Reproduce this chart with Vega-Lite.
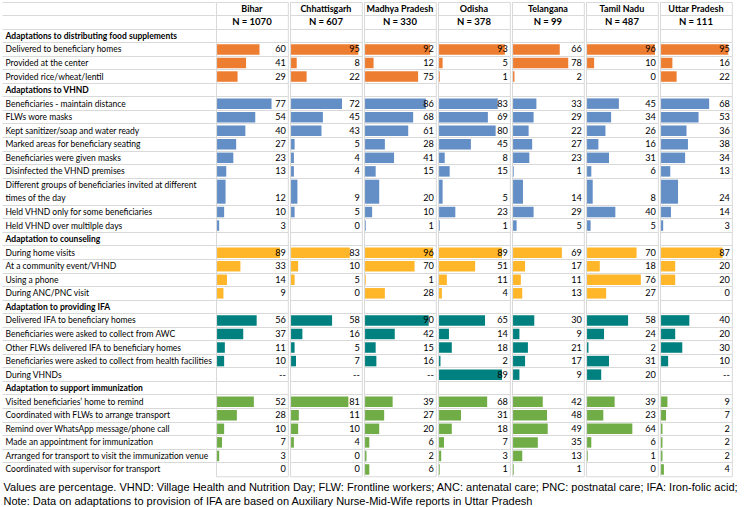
{
  "$schema": "https://vega.github.io/schema/vega-lite/v6.json",
  "padding": {"left": 1, "top": 1, "right": 0, "bottom": 0},
  "background": "white",
  "datasets": {
    "rows": [
      {"section": "Adaptations to distributing food supplements", "item": "Delivered to beneficiary homes", "Bihar": 60, "Chhattisgarh": 95, "Madhya Pradesh": 92, "Odisha": 93, "Telangana": 66, "Tamil Nadu": 96, "Uttar Pradesh": 95},
      {"section": "Adaptations to distributing food supplements", "item": "Provided at the center", "Bihar": 41, "Chhattisgarh": 8, "Madhya Pradesh": 12, "Odisha": 5, "Telangana": 78, "Tamil Nadu": 10, "Uttar Pradesh": 16},
      {"section": "Adaptations to distributing food supplements", "item": "Provided rice/wheat/lentil", "Bihar": 29, "Chhattisgarh": 22, "Madhya Pradesh": 75, "Odisha": 1, "Telangana": 2, "Tamil Nadu": 0, "Uttar Pradesh": 22},
      {"section": "Adaptations to VHND", "item": "Beneficiaries - maintain distance", "Bihar": 77, "Chhattisgarh": 72, "Madhya Pradesh": 86, "Odisha": 83, "Telangana": 33, "Tamil Nadu": 45, "Uttar Pradesh": 68},
      {"section": "Adaptations to VHND", "item": "FLWs wore masks", "Bihar": 54, "Chhattisgarh": 45, "Madhya Pradesh": 68, "Odisha": 69, "Telangana": 29, "Tamil Nadu": 34, "Uttar Pradesh": 53},
      {"section": "Adaptations to VHND", "item": "Kept sanitizer/soap and water ready", "Bihar": 40, "Chhattisgarh": 43, "Madhya Pradesh": 61, "Odisha": 80, "Telangana": 22, "Tamil Nadu": 26, "Uttar Pradesh": 36},
      {"section": "Adaptations to VHND", "item": "Marked areas for beneficiary seating", "Bihar": 27, "Chhattisgarh": 5, "Madhya Pradesh": 28, "Odisha": 45, "Telangana": 27, "Tamil Nadu": 16, "Uttar Pradesh": 38},
      {"section": "Adaptations to VHND", "item": "Beneficiaries were given masks", "Bihar": 23, "Chhattisgarh": 4, "Madhya Pradesh": 41, "Odisha": 8, "Telangana": 23, "Tamil Nadu": 31, "Uttar Pradesh": 34},
      {"section": "Adaptations to VHND", "item": "Disinfected the VHND premises", "Bihar": 13, "Chhattisgarh": 4, "Madhya Pradesh": 15, "Odisha": 15, "Telangana": 1, "Tamil Nadu": 6, "Uttar Pradesh": 13},
      {"section": "Adaptations to VHND", "item": "Different groups of beneficiaries invited at different times of the day", "Bihar": 12, "Chhattisgarh": 9, "Madhya Pradesh": 20, "Odisha": 5, "Telangana": 14, "Tamil Nadu": 8, "Uttar Pradesh": 24},
      {"section": "Adaptations to VHND", "item": "Held VHND only for some beneficiaries", "Bihar": 10, "Chhattisgarh": 5, "Madhya Pradesh": 10, "Odisha": 23, "Telangana": 29, "Tamil Nadu": 40, "Uttar Pradesh": 14},
      {"section": "Adaptations to VHND", "item": "Held VHND over multilple days", "Bihar": 3, "Chhattisgarh": 0, "Madhya Pradesh": 1, "Odisha": 1, "Telangana": 5, "Tamil Nadu": 5, "Uttar Pradesh": 3},
      {"section": "Adaptation to counseling", "item": "During home visits", "Bihar": 89, "Chhattisgarh": 83, "Madhya Pradesh": 96, "Odisha": 89, "Telangana": 69, "Tamil Nadu": 70, "Uttar Pradesh": 87},
      {"section": "Adaptation to counseling", "item": "At a community event/VHND", "Bihar": 33, "Chhattisgarh": 10, "Madhya Pradesh": 70, "Odisha": 51, "Telangana": 17, "Tamil Nadu": 18, "Uttar Pradesh": 20},
      {"section": "Adaptation to counseling", "item": "Using a phone", "Bihar": 14, "Chhattisgarh": 5, "Madhya Pradesh": 1, "Odisha": 11, "Telangana": 11, "Tamil Nadu": 76, "Uttar Pradesh": 20},
      {"section": "Adaptation to counseling", "item": "During ANC/PNC visit", "Bihar": 9, "Chhattisgarh": 0, "Madhya Pradesh": 28, "Odisha": 4, "Telangana": 13, "Tamil Nadu": 27, "Uttar Pradesh": 0},
      {"section": "Adaptation to providing IFA", "item": "Delivered IFA to beneficiary homes", "Bihar": 56, "Chhattisgarh": 58, "Madhya Pradesh": 90, "Odisha": 65, "Telangana": 30, "Tamil Nadu": 58, "Uttar Pradesh": 40},
      {"section": "Adaptation to providing IFA", "item": "Beneficiaries were asked to collect from AWC", "Bihar": 37, "Chhattisgarh": 16, "Madhya Pradesh": 42, "Odisha": 14, "Telangana": 9, "Tamil Nadu": 24, "Uttar Pradesh": 20},
      {"section": "Adaptation to providing IFA", "item": "Other FLWs delivered IFA to beneficiary homes", "Bihar": 11, "Chhattisgarh": 5, "Madhya Pradesh": 15, "Odisha": 18, "Telangana": 21, "Tamil Nadu": 2, "Uttar Pradesh": 30},
      {"section": "Adaptation to providing IFA", "item": "Beneficiaries were asked to collect from health facilities", "Bihar": 10, "Chhattisgarh": 7, "Madhya Pradesh": 16, "Odisha": 2, "Telangana": 17, "Tamil Nadu": 31, "Uttar Pradesh": 10},
      {"section": "Adaptation to providing IFA", "item": "During VHNDs", "Bihar": null, "Chhattisgarh": null, "Madhya Pradesh": null, "Odisha": 89, "Telangana": 9, "Tamil Nadu": 20, "Uttar Pradesh": null},
      {"section": "Adaptation to support immunization", "item": "Visited beneficiaries’ home to remind", "Bihar": 52, "Chhattisgarh": 81, "Madhya Pradesh": 39, "Odisha": 68, "Telangana": 42, "Tamil Nadu": 39, "Uttar Pradesh": 9},
      {"section": "Adaptation to support immunization", "item": "Coordinated with FLWs to arrange transport", "Bihar": 28, "Chhattisgarh": 11, "Madhya Pradesh": 27, "Odisha": 31, "Telangana": 48, "Tamil Nadu": 23, "Uttar Pradesh": 7},
      {"section": "Adaptation to support immunization", "item": "Remind over WhatsApp message/phone call", "Bihar": 10, "Chhattisgarh": 10, "Madhya Pradesh": 20, "Odisha": 18, "Telangana": 49, "Tamil Nadu": 64, "Uttar Pradesh": 2},
      {"section": "Adaptation to support immunization", "item": "Made an appointment for immunization", "Bihar": 7, "Chhattisgarh": 4, "Madhya Pradesh": 6, "Odisha": 7, "Telangana": 35, "Tamil Nadu": 6, "Uttar Pradesh": 2},
      {"section": "Adaptation to support immunization", "item": "Arranged for transport to visit the immunization venue", "Bihar": 3, "Chhattisgarh": 0, "Madhya Pradesh": 2, "Odisha": 3, "Telangana": 13, "Tamil Nadu": 1, "Uttar Pradesh": 2},
      {"section": "Adaptation to support immunization", "item": "Coordinated with supervisor for transport", "Bihar": 0, "Chhattisgarh": 0, "Madhya Pradesh": 6, "Odisha": 1, "Telangana": 1, "Tamil Nadu": 0, "Uttar Pradesh": 4}
    ],
    "states": [
      {"state": "Bihar", "n": 1070},
      {"state": "Chhattisgarh", "n": 607},
      {"state": "Madhya Pradesh", "n": 330},
      {"state": "Odisha", "n": 378},
      {"state": "Telangana", "n": 99},
      {"state": "Tamil Nadu", "n": 487},
      {"state": "Uttar Pradesh", "n": 111}
    ]
  },
  "data": {"name": "rows"},
  "transform": [
    {"fold": ["Bihar", "Chhattisgarh", "Madhya Pradesh", "Odisha", "Telangana", "Tamil Nadu", "Uttar Pradesh"], "as": ["state", "value"]},
    {"lookup": "state", "from": {"data": {"name": "states"}, "key": "state", "fields": ["n"]}}
  ],
  "title": {
    "text": [
      "Values are percentage. VHND: Village Health and Nutrition Day; FLW: Frontline workers; ANC: antenatal care; PNC: postnatal care; IFA: Iron-folic acid;",
      "Note: Data on adaptations to provision of IFA are based on Auxiliary Nurse-Mid-Wife reports in Uttar Pradesh"
    ],
    "orient": "bottom",
    "anchor": "start",
    "frame": "bounds",
    "font": "Liberation Sans",
    "fontSize": 11,
    "fontWeight": "normal",
    "color": "#000000",
    "lineHeight": 14.5,
    "offset": 5,
    "dx": 2
  },
  "facet": {
    "column": {
      "field": "state",
      "type": "nominal",
      "sort": ["Bihar", "Chhattisgarh", "Madhya Pradesh", "Odisha", "Telangana", "Tamil Nadu", "Uttar Pradesh"],
      "header": null
    }
  },
  "spacing": 0,
  "spec": {
    "width": 71.8,
    "height": {"step": 13.55},
    "encoding": {
      "y": {
        "field": "item",
        "type": "nominal",
        "scale": {
          "padding": 0,
          "domain": [
            "~state", "~n",
            "Adaptations to distributing food supplements",
            "Delivered to beneficiary homes", "Provided at the center", "Provided rice/wheat/lentil",
            "Adaptations to VHND",
            "Beneficiaries - maintain distance", "FLWs wore masks", "Kept sanitizer/soap and water ready", "Marked areas for beneficiary seating", "Beneficiaries were given masks", "Disinfected the VHND premises",
            "Different groups of beneficiaries invited at different",
            "Different groups of beneficiaries invited at different times of the day",
            "Held VHND only for some beneficiaries", "Held VHND over multilple days",
            "Adaptation to counseling",
            "During home visits", "At a community event/VHND", "Using a phone", "During ANC/PNC visit",
            "Adaptation to providing IFA",
            "Delivered IFA to beneficiary homes", "Beneficiaries were asked to collect from AWC", "Other FLWs delivered IFA to beneficiary homes", "Beneficiaries were asked to collect from health facilities", "During VHNDs",
            "Adaptation to support immunization",
            "Visited beneficiaries’ home to remind", "Coordinated with FLWs to arrange transport", "Remind over WhatsApp message/phone call", "Made an appointment for immunization", "Arranged for transport to visit the immunization venue", "Coordinated with supervisor for transport"
          ]
        },
        "axis": {
          "title": null,
          "domain": false,
          "bandPosition": 0,
          "ticks": true,
          "tickSize": 213,
          "tickWidth": 1,
          "tickColor": {"condition": {"test": "datum.value == 'Different groups of beneficiaries invited at different times of the day'", "value": "transparent"}, "value": "#d9d9d9"},
          "grid": true,
          "gridColor": {"condition": {"test": "datum.value == 'Different groups of beneficiaries invited at different times of the day'", "value": "transparent"}, "value": "#d9d9d9"},
          "labelPadding": -3,
          "labelOffset": 0,
          "labelAlign": "left",
          "labelBaseline": "middle",
          "labelFont": "Lato",
          "labelFontSize": 8.5,
          "labelColor": "#000000",
          "labelLimit": 215,
          "labelOverlap": false,
          "labelFontWeight": {"condition": {"test": "indexof(datum.value, 'Adaptation') == 0", "value": "bold"}, "value": "normal"},
          "labelExpr": "indexof(datum.value, '~') == 0 ? '' : replace(datum.value, 'Different groups of beneficiaries invited at different ', '')"
        }
      }
    },
    "layer": [
      {
        "transform": [{"filter": "datum.item != 'Different groups of beneficiaries invited at different times of the day'"}],
        "mark": {"type": "bar", "height": 10.5},
        "encoding": {
          "x": {"field": "value", "type": "quantitative", "scale": {"domain": [-1.5, 100], "nice": false, "zero": false}, "axis": null},
          "color": {"field": "section", "type": "nominal", "legend": null,
            "scale": {"domain": ["Adaptations to distributing food supplements", "Adaptations to VHND", "Adaptation to counseling", "Adaptation to providing IFA", "Adaptation to support immunization"],
                      "range": ["#ED7D31", "#638EC6", "#FFB628", "#00807F", "#70AD47"]}}
        }
      },
      {
        "transform": [{"filter": "datum.item == 'Different groups of beneficiaries invited at different times of the day'"}],
        "mark": {"type": "bar", "height": 24, "yOffset": -6.775},
        "encoding": {
          "x": {"field": "value", "type": "quantitative", "scale": {"domain": [-1.5, 100], "nice": false, "zero": false}, "axis": null},
          "color": {"field": "section", "type": "nominal", "legend": null}
        }
      },
      {
        "mark": {"type": "text", "align": "right", "baseline": "middle", "dx": -2, "font": "Lato", "fontSize": 9.2, "color": "#000000"},
        "encoding": {
          "x": {"datum": 100, "type": "quantitative", "scale": {"domain": [-1.5, 100], "nice": false, "zero": false}, "axis": null},
          "text": {"condition": {"test": "datum.value == null", "value": "--"}, "field": "value", "type": "quantitative"}
        }
      },
      {
        "transform": [{"aggregate": [{"op": "min", "field": "n", "as": "n"}], "groupby": ["state"]}],
        "mark": {"type": "text", "align": "center", "baseline": "middle", "font": "Lato", "fontSize": 9, "fontWeight": "bold", "color": "#000000"},
        "encoding": {
          "y": {"datum": "~state", "type": "nominal"},
          "text": {"field": "state", "type": "nominal"}
        }
      },
      {
        "transform": [{"aggregate": [{"op": "min", "field": "n", "as": "n"}], "groupby": ["state"]}, {"calculate": "'N = ' + datum.n", "as": "nlabel"}],
        "mark": {"type": "text", "align": "center", "baseline": "middle", "font": "Lato", "fontSize": 9.5, "fontWeight": "bold", "color": "#000000"},
        "encoding": {
          "y": {"datum": "~n", "type": "nominal"},
          "text": {"field": "nlabel", "type": "nominal"}
        }
      }
    ]
  },
  "config": {
    "view": {"stroke": "#d9d9d9", "strokeWidth": 1},
    "font": "Lato"
  }
}
